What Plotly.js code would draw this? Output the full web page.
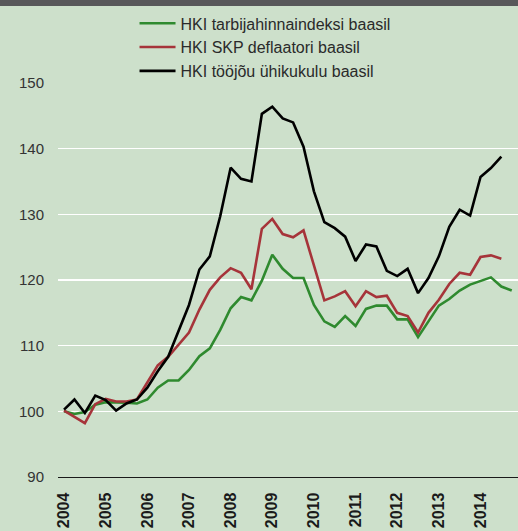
<!DOCTYPE html>
<html>
<head>
<meta charset="utf-8">
<script src="https://cdn.plot.ly/plotly-3.0.1.min.js"></script>
<style>
html,body{margin:0;padding:0;background:#cde0cb;}
#chart{width:518px;height:531px;}
</style>
</head>
<body>
<div id="chart"></div>
<script>
// Quarterly categories 2004Q1 .. 2014Q4
const years = ["2004","2005","2006","2007","2008","2009","2010","2011","2012","2013","2014"];
const quarters = [];
years.forEach(y => { for (let q = 1; q <= 4; q++) quarters.push(y + "Q" + q); });

const seriesNames = ["HKI tarbijahinnaindeksi baasil", "HKI SKP deflaatori baasil", "HKI tööjõu ühikukulu baasil"];

const cpiBased = [100.0, 99.6, 99.9, 101.0, 101.4, 101.4, 101.3, 101.2, 101.8, 103.6, 104.7, 104.7,
  106.3, 108.4, 109.6, 112.4, 115.7, 117.4, 116.9, 119.9, 123.85, 121.7, 120.3, 120.3,
  116.2, 113.7, 112.85, 114.5, 113.0, 115.6, 116.1, 116.1, 114.0, 114.0, 111.3, 113.7,
  116.1, 117.1, 118.4, 119.3, 119.8, 120.4, 119.0, 118.4];

const gdpDeflBased = [100.1, 99.2, 98.2, 101.1, 101.9, 101.5, 101.5, 101.8, 104.3, 107.0, 108.3, 110.1,
  112.0, 115.5, 118.5, 120.4, 121.8, 121.1, 118.6, 127.8, 129.3, 127.0, 126.5, 127.55,
  122.1, 116.9, 117.5, 118.3, 116.0, 118.3, 117.4, 117.6, 115.0, 114.5, 112.0, 115.0,
  117.0, 119.4, 121.1, 120.8, 123.5, 123.75, 123.25];

const ulcBased = [100.25, 101.8, 99.75, 102.4, 101.7, 100.1, 101.2, 101.8, 103.6, 106.1, 108.3, 112.4,
  116.2, 121.6, 123.6, 129.7, 137.1, 135.4, 135.0, 145.3, 146.4, 144.6, 144.0, 140.3,
  133.5, 128.8, 127.9, 126.6, 122.9, 125.4, 125.1, 121.4, 120.6, 121.7, 118.0, 120.3,
  123.6, 128.1, 130.7, 129.8, 135.7, 137.05, 138.8];

const yTicks = [90, 100, 110, 120, 130, 140, 150];

const colors = ["#2f8a2f", "#a6343a", "#000000"];
const allSeries = [cpiBased, gdpDeflBased, ulcBased];

const traces = allSeries.map((vals, i) => ({
  type: "scatter",
  mode: "lines",
  name: seriesNames[i],
  x: quarters.slice(0, vals.length),
  y: vals,
  line: {color: colors[i], width: 2.6},
  hoverinfo: "skip"
}));

const layout = {
  width: 518,
  height: 531,
  paper_bgcolor: "#cde0cb",
  plot_bgcolor: "#cde0cb",
  margin: {l: 58, r: 0, t: 83, b: 54, autoexpand: false},
  font: {family: "Liberation Sans, Arial, sans-serif", color: "#333333"},
  showlegend: true,
  legend: {
    xref: "container", yref: "container",
    x: 0.2597, y: 0.988, xanchor: "left", yanchor: "top",
    bgcolor: "rgba(0,0,0,0)",
    font: {size: 16, color: "#2a2a2a"},
    tracegroupgap: 0,
    itemwidth: 36
  },
  xaxis: {
    type: "category",
    range: [-0.58, 43.6],
    tickmode: "array",
    tickvals: years.map(y => y + "Q1"),
    ticktext: years,
    tickangle: -90,
    tickfont: {size: 16, color: "#1a1a1a", family: "Liberation Sans, Arial, sans-serif", weight: "bold"},
    ticks: "outside",
    ticklen: 8,
    tickcolor: "rgba(0,0,0,0)",
    showgrid: false,
    showline: true,
    linecolor: "#1a1a1a",
    linewidth: 1.2,
    zeroline: false,
    automargin: false,
    fixedrange: true
  },
  yaxis: {
    range: [90, 150],
    tickmode: "array",
    tickvals: yTicks,
    ticktext: yTicks.map(String),
    tickfont: {size: 15, color: "#333333"},
    showgrid: true,
    gridcolor: "#ffffff",
    gridwidth: 1.4,
    zeroline: false,
    showline: false,
    ticks: "outside",
    ticklen: 10,
    tickcolor: "rgba(0,0,0,0)",
    automargin: false,
    fixedrange: true
  },
  shapes: [{
    type: "rect", xref: "paper", yref: "paper",
    x0: -0.2, x1: 1.1, y0: 1 + 77/394, y1: 1 + 90/394,
    fillcolor: "#58585a", line: {width: 0}, layer: "above"
  }]
};

Plotly.newPlot("chart", traces, layout, {displayModeBar: false, staticPlot: true});
</script>
</body>
</html>
